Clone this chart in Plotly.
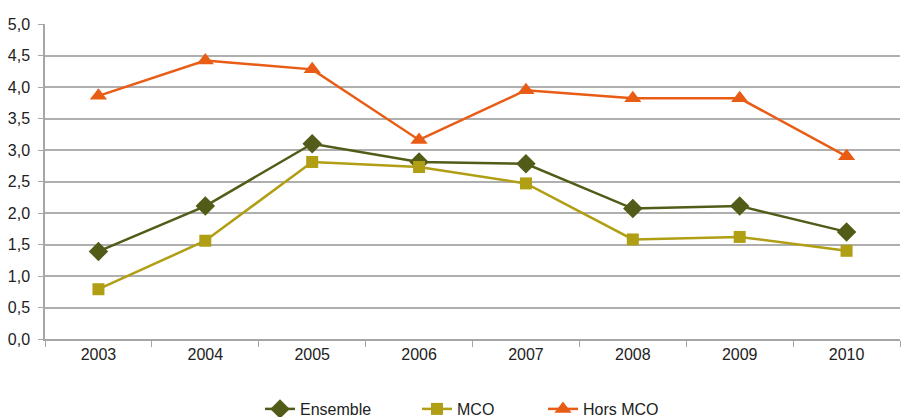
import plotly.graph_objects as go

years = ["2003", "2004", "2005", "2006", "2007", "2008", "2009", "2010"]
ensemble = [1.39, 2.11, 3.10, 2.81, 2.78, 2.07, 2.11, 1.70]
mco = [0.79, 1.56, 2.81, 2.73, 2.47, 1.58, 1.62, 1.40]
hors_mco = [3.86, 4.42, 4.28, 3.16, 3.95, 3.82, 3.82, 2.90]

FONT = "Liberation Sans, Arial, sans-serif"

# name, values, colour, marker symbol, marker size, legend id, legend x (px)
series = [
    ("Ensemble", ensemble, "#525B17", "diamond", 15, "legend", 260),
    ("MCO", mco, "#B09E14", "square", 12, "legend2", 417),
    ("Hors MCO", hors_mco, "#E95C15", "triangle-up", 15, "legend3", 543),
]

fig = go.Figure()
legends = {}
for name, vals, color, symbol, size, leg, lx in series:
    fig.add_trace(go.Scatter(
        x=years, y=vals, name=name, mode="lines+markers",
        line=dict(color=color, width=2.5),
        marker=dict(symbol=symbol, size=size, color=color),
        legend=leg,
    ))
    legends[leg] = dict(
        orientation="h", xref="container", yref="container",
        x=lx / 902, xanchor="left", y=(417 - 409) / 417, yanchor="middle",
        font=dict(family=FONT, size=16), bgcolor="rgba(0,0,0,0)",
    )

fig.update_layout(
    width=902, height=417,
    margin=dict(l=45, r=2, t=24, b=78),
    paper_bgcolor="white", plot_bgcolor="white",
    separators=", ",
    font=dict(family=FONT, size=16, color="#222222"),
    showlegend=True,
    xaxis=dict(
        type="category", range=[-0.5, 7.5], showgrid=False,
        showline=True, linecolor="#A6A6A6", linewidth=1.5,
        ticks="outside", tickson="boundaries", ticklen=6, tickcolor="#A6A6A6",
        tickfont=dict(size=16),
    ),
    yaxis=dict(
        range=[0, 5], dtick=0.5, tickformat=".1f",
        showgrid=True, gridcolor="#AFAFAF", gridwidth=1.5,
        showline=True, linecolor="#A6A6A6", linewidth=1.5,
        ticks="outside", ticklen=5, tickcolor="#A6A6A6",
        tickfont=dict(size=16), zeroline=False, ticklabelstandoff=5,
    ),
    **legends,
)

fig.write_html("out.html")
